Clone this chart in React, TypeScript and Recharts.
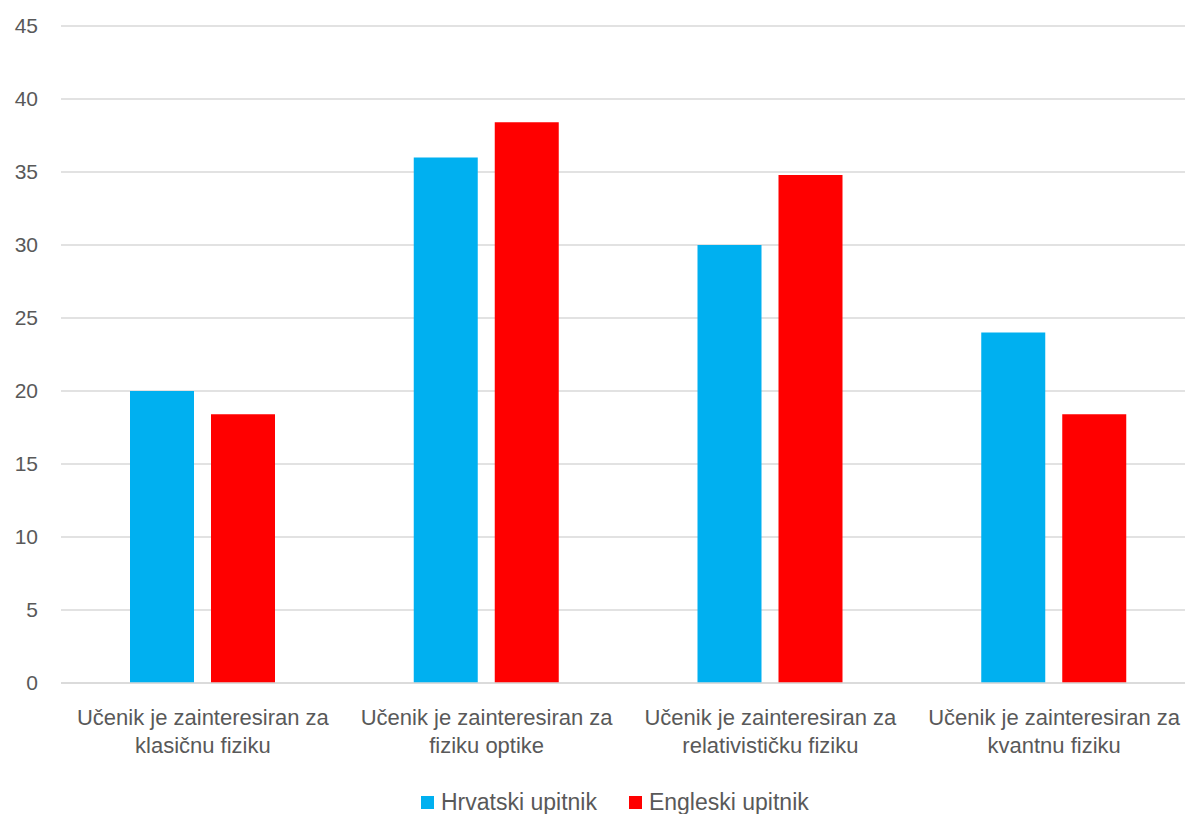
import { BarChart, Bar, XAxis, YAxis, CartesianGrid, Legend } from 'recharts'

const categories = [
  'Učenik je zainteresiran za klasičnu fiziku',
  'Učenik je zainteresiran za fiziku optike',
  'Učenik je zainteresiran za relativističku fiziku',
  'Učenik je zainteresiran za kvantnu fiziku',
]
const labelLines = [
  ['Učenik je zainteresiran za', 'klasičnu fiziku'],
  ['Učenik je zainteresiran za', 'fiziku optike'],
  ['Učenik je zainteresiran za', 'relativističku fiziku'],
  ['Učenik je zainteresiran za', 'kvantnu fiziku'],
]
const hrvatski = [20, 36, 30, 24]
const engleski = [18.4, 38.4, 34.8, 18.4]
const yTicks = [0, 5, 10, 15, 20, 25, 30, 35, 40, 45]

const data = categories.map((name, i) => ({
  name,
  idx: i,
  hrvatski: hrvatski[i],
  engleski: engleski[i],
}))

const FONT = '"Liberation Sans", Arial, sans-serif'
const TEXT = '#595959'
const BLUE = '#00B0F0'
const RED = '#FF0000'

function CategoryTick(props: any) {
  const { x, y, index } = props
  const lines = labelLines[index] ?? []
  return (
    <text x={x} y={y} textAnchor="middle" fill={TEXT} fontSize={22} fontFamily={FONT}>
      {lines.map((l, i) => (
        <tspan key={i} x={x} dy={i === 0 ? 34 : 28}>
          {l}
        </tspan>
      ))}
    </text>
  )
}

function renderLegend() {
  const items = [
    { label: 'Hrvatski upitnik', color: BLUE },
    { label: 'Engleski upitnik', color: RED },
  ]
  return (
    <div
      style={{
        display: 'flex',
        height: 40,
        paddingLeft: 421,
        alignItems: 'center',
        paddingTop: 16,
        boxSizing: 'border-box',
        fontFamily: FONT,
        fontSize: 23,
        color: TEXT,
      }}
    >
      {items.map((it) => (
        <div key={it.label} style={{ display: 'flex', alignItems: 'center', marginRight: 32 }}>
          <span style={{ width: 13, height: 13, background: it.color, marginRight: 7 }} />
          <span>{it.label}</span>
        </div>
      ))}
    </div>
  )
}

export default function App() {
  return (
    <div style={{ position: 'fixed', left: 0, top: 0, width: 1185, height: 814, overflow: 'hidden', background: '#fff' }}>
      <BarChart
        width={1200}
        height={814}
        data={data}
        margin={{ top: 26, right: 4, bottom: 0, left: 0 }}
        barSize={64}
        barGap={17}
      >
        <CartesianGrid vertical={false} stroke="#d9d9d9" strokeWidth={1.3} />
        <XAxis
          dataKey="name"
          height={91}
          tickLine={false}
          axisLine={{ stroke: '#d9d9d9', strokeWidth: 1.3 }}
          tick={<CategoryTick />}
          interval={0}
        />
        <YAxis
          width={61}
          domain={[0, 45]}
          ticks={yTicks}
          tickLine={false}
          axisLine={false}
          tickSize={6}
          tickMargin={17}
          tick={{ fill: TEXT, fontSize: 21, fontFamily: FONT }}
        />
        <Legend verticalAlign="bottom" content={renderLegend} wrapperStyle={{ left: 0, width: 1185 }} />
        <Bar dataKey="hrvatski" name="Hrvatski upitnik" fill={BLUE} isAnimationActive={false} />
        <Bar dataKey="engleski" name="Engleski upitnik" fill={RED} isAnimationActive={false} />
      </BarChart>
    </div>
  )
}
